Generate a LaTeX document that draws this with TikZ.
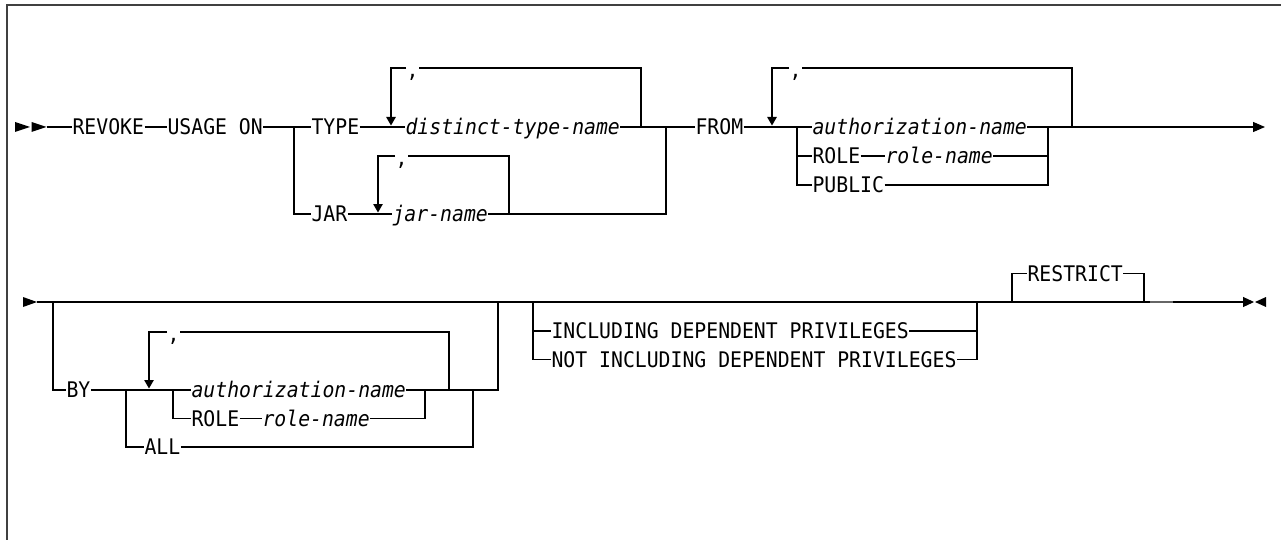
\documentclass[tikz,border=0pt]{standalone}
\usepackage{fontspec}
\newfontfamily\synfont[FakeStretch=0.92]{DejaVu Sans Mono}
\usetikzlibrary{arrows.meta}
\tikzset{
  kw/.style={anchor=west,inner sep=0pt,text height=15.7pt,text depth=0pt,
             font=\synfont\fontsize{21.5pt}{24pt}\selectfont},
  nm/.style={kw,font=\synfont\fontsize{21.5pt}{24pt}\selectfont\itshape},
  comma/.style={kw,text height=19.5pt},
  lp/.style={-{Triangle[width=9.5pt,length=8.5pt]},shorten >=1.5pt},
  frm/.style={draw=black!75,line width=1.5pt},
  every picture/.style={line cap=butt,line join=miter}}

\begin{document}
\begin{tikzpicture}[x=1pt,y=-1pt,line width=1.1pt]
  \useasboundingbox (0,0) rectangle (1281,540);
  \draw[frm] (1281,5) -- (7,5) -- (7,540);
  % first line
  \fill (15,122) -- (30,127) -- (15,132) -- cycle; \fill (31.5,122) -- (46.5,127) -- (31.5,132) -- cycle;
  \coordinate (s1) at (46.5,127); \coordinate (e1) at (1265,127);
  \node[kw] (rv) at (72,127) {REVOKE}; \node[kw] (us) at (167,127) {USAGE ON};
  \node[kw] (ty) at (311,127) {TYPE}; \node[kw] (jr) at (311,214) {JAR};
  \node[nm] (dt) at (405,127) {distinct-type-name}; \node[nm] (jn) at (392,214) {jar-name};
  \node[comma] (c1) at (406,68) {,}; \node[comma] (c2) at (395,156) {,};
  \node[kw] (fr) at (695,127) {FROM}; \node[comma] (c3) at (789,68) {,};
  \node[nm] (an1) at (812,127) {authorization-name}; \node[kw] (rl1) at (812,156) {ROLE};
  \node[nm] (rn1) at (885,156) {role-name}; \node[kw] (pb) at (812,185) {PUBLIC};
  \coordinate (j1) at (294,127); \coordinate (j2) at (666,127);
  \coordinate (l1) at (391,127); \coordinate (r1) at (641,127);
  \coordinate (l2) at (378,214); \coordinate (r2) at (509,214);
  \coordinate (l3) at (772,127); \coordinate (r3) at (1072,127);
  \coordinate (j3) at (797,127); \coordinate (j4) at (1048,127);
  \draw (s1) -- (rv.west) (rv.east) -- (us.west) (us.east) -- (ty.west) (ty.east) -- (dt.west)
        (dt.east) -- (fr.west) (fr.east) -- (an1.west);
  \draw (j1) |- (jr.west) (jr.east) -- (jn.west) (jn.east) -| (j2);
  \draw (r1) |- (c1.east); \draw[lp] (c1.west) -| (l1);
  \draw (r2) |- (c2.east); \draw[lp] (c2.west) -| (l2);
  \draw (r3) |- (c3.east); \draw[lp] (c3.west) -| (l3);
  \draw (j3) |- (rl1.west) (j3) |- (pb.west) (rl1.east) -- (rn1.west) (rn1.east) -| (j4) (pb.east) -| (j4);
  \draw[-{Triangle[width=10pt,length=12pt]}] (an1.east) -- (e1);
  % second line
  \fill (23,297) -- (37,302) -- (23,307) -- cycle; \fill (1266,297) -- (1255,302) -- (1266,307) -- cycle;
  \coordinate (s2) at (37,302); \coordinate (e2) at (1254,302);
  \node[kw] (by) at (66,390) {BY}; \node[comma] (c4) at (167,332) {,};
  \node[nm] (an2) at (191,390) {authorization-name}; \node[kw] (rl2) at (191,418.5) {ROLE};
  \node[nm] (rn2) at (262,418.5) {role-name}; \node[kw] (al) at (144,447) {ALL};
  \node[kw] (inc) at (551,331) {INCLUDING DEPENDENT PRIVILEGES};
  \node[kw] (ninc) at (551,359.5) {NOT INCLUDING DEPENDENT PRIVILEGES};
  \node[kw] (rs) at (1027,273.3) {RESTRICT};
  \coordinate (k1) at (53,302); \coordinate (k2) at (498,302);
  \coordinate (k3) at (126,390); \coordinate (k4) at (473,390);
  \coordinate (l4) at (149,390); \coordinate (r4) at (449,390);
  \coordinate (k5) at (173,390); \coordinate (k6) at (425,390);
  \coordinate (k7) at (533,302); \coordinate (k8) at (977,302);
  \coordinate (k9) at (1012,302); \coordinate (k10) at (1144,302);
  \draw[-{Triangle[width=10pt,length=11pt]}] (s2) -- (e2);
  \draw (k1) |- (by.west) (by.east) -- (an2.west) (an2.east) -| (k2);
  \draw (k3) |- (al.west) (al.east) -| (k4);
  \draw (r4) |- (c4.east); \draw[lp] (c4.west) -| (l4);
  \draw (k5) |- (rl2.west) (rl2.east) -- (rn2.west) (rn2.east) -| (k6);
  \draw (k7) |- (inc.west) (inc.east) -| (k8) (k7) |- (ninc.west) (ninc.east) -| (k8);
  \draw (k9) |- (rs.west) (rs.east) -| (k10);
  \draw[black!60,line width=2.4pt] (1150,302) -- (1173,302);
\end{tikzpicture}
\end{document}
